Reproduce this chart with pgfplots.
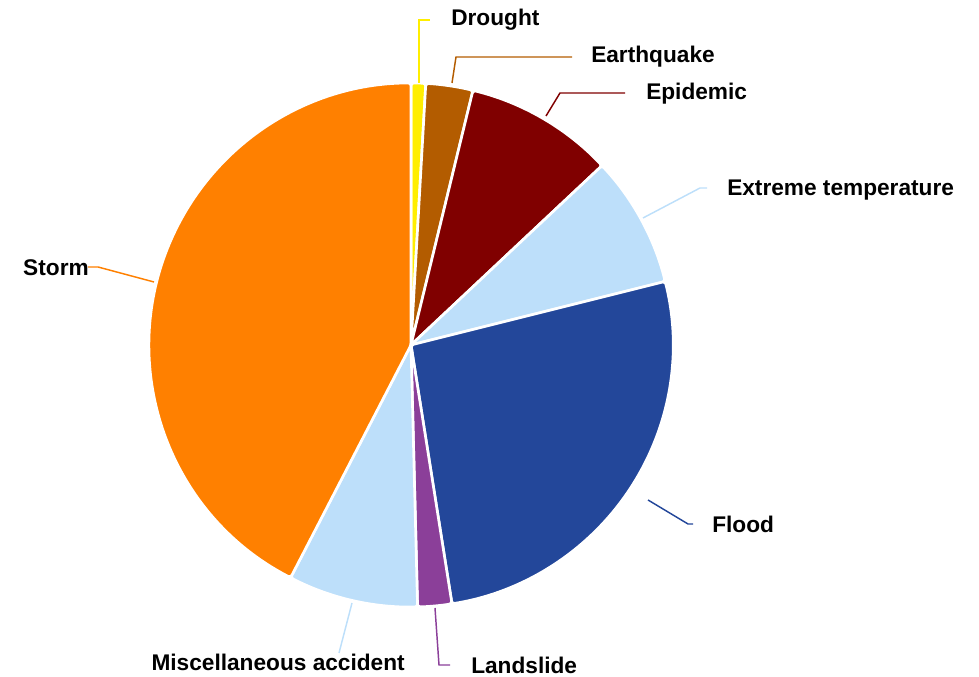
\documentclass[border=0pt]{standalone}
\usepackage{fontspec}
\setmainfont{Liberation Sans}
\usepackage{pgfplots}
\pgfplotsset{compat=1.18}

\definecolor{cDrought}{HTML}{FFEE00}
\definecolor{cQuake}{HTML}{B35C00}
\definecolor{cEpidemic}{HTML}{800000}
\definecolor{cLight}{HTML}{BDDFFA}
\definecolor{cFlood}{HTML}{23479A}
\definecolor{cSlide}{HTML}{8B3F99}
\definecolor{cStorm}{HTML}{FF8000}

% pie radius (262 px at 0.75pt per px)
\def\pieR{196.5pt}
% one slice, from cumulative share #1 to #2 (percent), clockwise from the top
\newcommand\slice[3]{%
  \fill[#3, draw=white, line width=2pt, rounded corners=2pt]
    (axis cs:411,332) -- ++({90-3.6*#1}:\pieR)
    arc[start angle={90-3.6*#1}, end angle={90-3.6*#2}, radius=\pieR] -- cycle;}

\begin{document}
\begin{tikzpicture}
\begin{axis}[
    scale only axis,
    width=734.25pt, height=507.75pt,
    xmin=0, xmax=979, ymin=0, ymax=677,
    hide axis,
    clip=false,
  ]
  \path (axis cs:0,0) rectangle (axis cs:979,677);
  % shares: Drought 0.9, Earthquake 2.9, Epidemic 9.2, Extreme temperature 8.1,
  % Flood 26.4, Landslide 2.1, Miscellaneous accident 8.0, Storm 42.4
  \slice{0}{0.9}{cDrought}
  \slice{0.9}{3.8}{cQuake}
  \slice{3.8}{13.0}{cEpidemic}
  \slice{13.0}{21.1}{cLight}
  \slice{21.1}{47.5}{cFlood}
  \slice{47.5}{49.6}{cSlide}
  \slice{49.6}{57.6}{cLight}
  \slice{57.6}{100}{cStorm}

  % leader lines
  \draw[cDrought, line width=1.1pt] (axis cs:419,594) -- (axis cs:419,657) -- (axis cs:430,657);
  \draw[cQuake, line width=1.1pt] (axis cs:452,594) -- (axis cs:456,620) -- (axis cs:572,620);
  \draw[cEpidemic, line width=1.1pt] (axis cs:546,561) -- (axis cs:560,584) -- (axis cs:625,584);
  \draw[cLight, line width=1.1pt] (axis cs:643,459) -- (axis cs:700,489) -- (axis cs:707,489);
  \draw[cFlood, line width=1.1pt] (axis cs:648,177) -- (axis cs:688,153) -- (axis cs:693,153);
  \draw[cSlide, line width=1.1pt] (axis cs:435,69) -- (axis cs:439,12) -- (axis cs:450,12);
  \draw[cLight, line width=1.1pt] (axis cs:352,74) -- (axis cs:339,24);
  \draw[cStorm, line width=1.1pt] (axis cs:154,395) -- (axis cs:98,410) -- (axis cs:88,410);

  % labels
  \begin{scope}[every node/.style={font=\fontsize{17}{20}\selectfont\bfseries, inner sep=0pt}]
  \node[anchor=west] at (axis cs:451,657) {Drought};
  \node[anchor=west] at (axis cs:591,620) {Earthquake};
  \node[anchor=west] at (axis cs:646,583) {Epidemic};
  \node[anchor=west] at (axis cs:727,487) {Extreme temperature};
  \node[anchor=west] at (axis cs:712,153) {Flood};
  \node[anchor=west] at (axis cs:471,12) {Landslide};
  \node[anchor=east] at (axis cs:405,15) {Miscellaneous accident};
  \node[anchor=east] at (axis cs:89,409) {Storm};
  \end{scope}
\end{axis}
\end{tikzpicture}
\end{document}
